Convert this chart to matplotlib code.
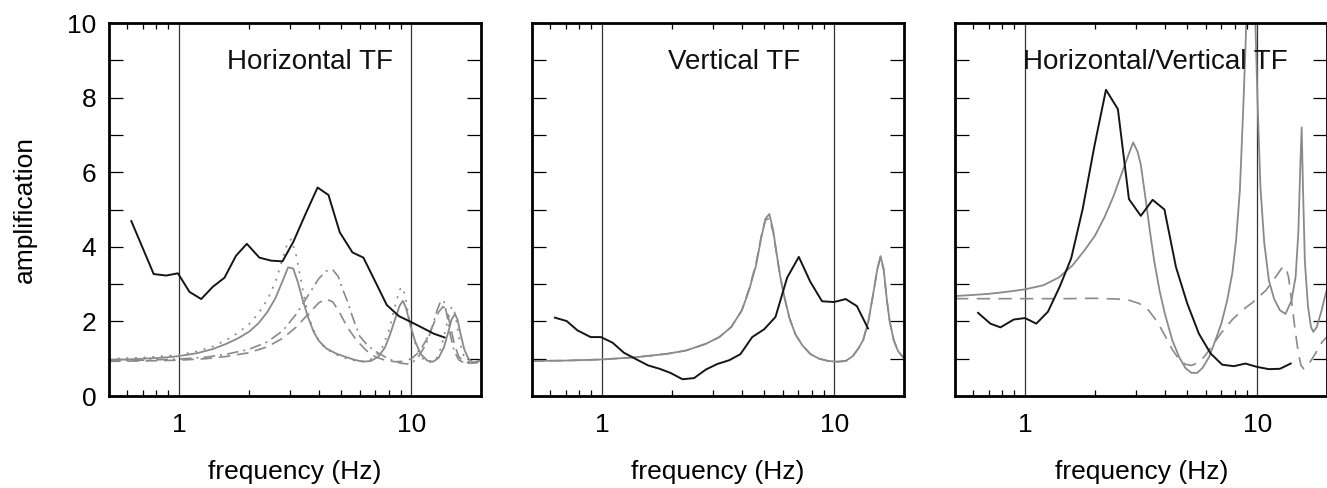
import matplotlib
matplotlib.use('Agg')
import matplotlib.pyplot as plt
from matplotlib.ticker import FixedLocator, NullFormatter, FixedFormatter

plt.rcParams['font.family'] = ['Liberation Sans', 'DejaVu Sans']

# ---- panel 1: horizontal TF ----
h_obs_f = [0.624, 0.779, 0.882, 0.99, 1.111, 1.247, 1.40, 1.57, 1.76, 1.96, 2.22, 2.49, 2.79,
           3.11, 3.50, 3.95, 4.40, 4.92, 5.58, 6.22, 6.98, 7.84, 8.85, 9.93, 11.15, 12.5, 13.9]
h_obs_a = [4.69, 3.27, 3.23, 3.29, 2.79, 2.60, 2.93, 3.17, 3.76, 4.08, 3.71, 3.63, 3.61,
           4.14, 4.87, 5.59, 5.39, 4.39, 3.85, 3.71, 3.08, 2.44, 2.14, 1.99, 1.83, 1.67, 1.57]

h_m1_f = [0.5, 0.6, 0.7, 0.8, 0.9, 1.0, 1.2, 1.4, 1.6, 1.8, 2.0, 2.2, 2.4, 2.6, 2.8, 2.95, 3.1,
          3.25, 3.4, 3.6, 3.8, 4.0, 4.3, 4.7, 5.2, 5.7, 6.2, 6.7, 7.2, 7.7, 8.1, 8.5, 8.9, 9.2,
          9.5, 9.9, 10.4, 11.0, 11.7, 12.4, 13.1, 13.8, 14.4, 14.9, 15.4, 15.8, 16.3, 16.9,
          17.6, 18.4, 19.2, 20.0]
h_m1_a = [0.97, 0.98, 1.00, 1.02, 1.04, 1.07, 1.15, 1.26, 1.40, 1.55, 1.72, 1.95, 2.25, 2.62,
          3.10, 3.45, 3.42, 3.05, 2.60, 2.10, 1.72, 1.48, 1.28, 1.15, 1.05, 0.97, 0.92, 0.94,
          1.05, 1.30, 1.65, 2.05, 2.42, 2.55, 2.35, 1.90, 1.45, 1.12, 0.95, 0.92, 1.02, 1.30,
          1.70, 2.05, 2.20, 2.05, 1.65, 1.25, 1.00, 0.90, 0.92, 0.97]

h_m2_f = [0.5, 0.7, 0.9, 1.0, 1.2, 1.4, 1.6, 1.8, 2.0, 2.2, 2.4, 2.6, 2.8, 2.95, 3.05, 3.2,
          3.35, 3.5, 3.7, 3.9, 4.2, 4.6, 5.0, 5.5, 6.0, 6.5, 7.0, 7.5, 8.0, 8.5, 8.9, 9.15,
          9.4, 9.7, 10.1, 10.6, 11.2, 11.8, 12.5, 13.1, 13.7, 14.3, 14.8, 15.1, 15.5, 16.0,
          16.6, 17.3, 18.2, 19.2, 20.0]
h_m2_a = [1.00, 1.03, 1.08, 1.10, 1.20, 1.33, 1.50, 1.70, 1.92, 2.22, 2.58, 3.05, 3.70, 4.15,
          4.20, 3.75, 3.10, 2.50, 1.95, 1.60, 1.32, 1.15, 1.05, 0.97, 0.93, 0.95, 1.05, 1.30,
          1.75, 2.40, 2.85, 2.92, 2.70, 2.20, 1.65, 1.25, 1.00, 0.90, 0.92, 1.10, 1.50, 2.00,
          2.35, 2.40, 2.15, 1.60, 1.15, 0.95, 0.88, 0.90, 0.95]

h_m3_f = [0.5, 0.7, 1.0, 1.3, 1.6, 2.0, 2.4, 2.8, 3.2, 3.6, 4.0, 4.3, 4.6, 4.85, 5.0, 5.3,
          5.6, 6.0, 6.5, 7.0, 7.6, 8.3, 9.0, 9.6, 10.2, 10.8, 11.6, 12.3, 12.9, 13.4, 13.8,
          14.2, 14.7, 15.3, 16.0, 17.0, 18.0, 19.0, 20.0]
h_m3_a = [0.95, 0.96, 0.99, 1.04, 1.12, 1.25, 1.45, 1.75, 2.20, 2.70, 3.15, 3.35, 3.38, 3.20,
          2.95, 2.55, 2.10, 1.60, 1.35, 1.20, 1.07, 0.95, 0.88, 0.86, 0.92, 1.08, 1.40, 1.85,
          2.30, 2.55, 2.55, 2.20, 1.65, 1.20, 0.97, 0.88, 0.88, 0.92, 0.95]

h_m4_f = [0.5, 0.7, 1.0, 1.3, 1.6, 2.0, 2.4, 2.8, 3.2, 3.6, 4.0, 4.3, 4.6, 4.9, 5.3, 5.8,
          6.4, 7.0, 7.7, 8.5, 9.3, 10.0, 10.8, 11.6, 12.4, 13.1, 13.7, 14.2, 14.7, 15.3,
          16.0, 17.0, 18.5, 20.0]
h_m4_a = [0.93, 0.94, 0.96, 1.00, 1.06, 1.16, 1.32, 1.55, 1.85, 2.20, 2.50, 2.60, 2.52, 2.25,
          1.85, 1.50, 1.22, 1.05, 0.96, 0.92, 0.93, 1.00, 1.18, 1.50, 1.90, 2.25, 2.40, 2.30,
          1.90, 1.40, 1.05, 0.90, 0.88, 0.92]

# ---- panel 2: vertical TF ----
v_obs_f = [0.628, 0.705, 0.784, 0.894, 0.99, 1.111, 1.243, 1.41, 1.58, 1.77, 1.97, 2.22, 2.49,
           2.80, 3.14, 3.53, 3.94, 4.43, 4.99, 5.58, 6.26, 7.03, 7.88, 8.85, 9.97, 11.19,
           12.5, 13.96]
v_obs_a = [2.10, 2.01, 1.76, 1.58, 1.58, 1.43, 1.16, 0.98, 0.82, 0.73, 0.62, 0.45, 0.48, 0.71,
           0.86, 0.96, 1.12, 1.58, 1.79, 2.12, 3.17, 3.73, 3.06, 2.54, 2.52, 2.60, 2.41, 1.81]

v_m1_f = [0.5, 0.7, 1.0, 1.4, 1.9, 2.3, 2.8, 3.2, 3.6, 4.0, 4.3, 4.6, 4.85, 5.05, 5.25, 5.45,
          5.65, 5.85, 6.1, 6.4, 6.8, 7.3, 7.9, 8.6, 9.4, 10.3, 11.2, 12.0, 12.7, 13.3, 14.0,
          14.7, 15.3, 15.8, 16.3, 16.8, 17.3, 18.0, 18.8, 20.0]
v_m1_a = [0.94, 0.95, 0.98, 1.04, 1.13, 1.22, 1.40, 1.58, 1.85, 2.30, 2.85, 3.50, 4.25, 4.75,
          4.88, 4.45, 3.80, 3.20, 2.65, 2.10, 1.65, 1.35, 1.12, 1.00, 0.94, 0.92, 0.94, 1.07,
          1.28, 1.50, 2.00, 2.75, 3.40, 3.75, 3.40, 2.60, 2.00, 1.50, 1.20, 1.00]
v_m2_a = [0.94, 0.95, 0.98, 1.04, 1.13, 1.22, 1.40, 1.58, 1.85, 2.30, 2.88, 3.55, 4.30, 4.72,
          4.76, 4.40, 3.78, 3.18, 2.63, 2.10, 1.65, 1.35, 1.12, 1.00, 0.94, 0.92, 0.94, 1.07,
          1.28, 1.50, 2.00, 2.75, 3.40, 3.72, 3.38, 2.60, 2.00, 1.50, 1.20, 1.00]

# ---- panel 3: H/V ----
hv_obs_f = [0.628, 0.71, 0.784, 0.894, 1.0, 1.118, 1.255, 1.41, 1.58, 1.77, 1.99, 2.23, 2.51,
            2.80, 3.15, 3.54, 3.98, 4.46, 4.99, 5.60, 6.29, 7.05, 7.91, 8.88, 9.97, 11.2,
            12.5, 13.9]
hv_obs_a = [2.23, 1.94, 1.84, 2.05, 2.09, 1.94, 2.26, 2.93, 3.69, 5.01, 6.71, 8.21, 7.69, 5.28,
            4.83, 5.26, 5.00, 3.46, 2.48, 1.67, 1.14, 0.84, 0.80, 0.87, 0.78, 0.72, 0.73, 0.87]

hv_m1_f = [0.5, 0.6, 0.7, 0.8, 0.9, 1.0, 1.2, 1.4, 1.6, 1.8, 2.0, 2.2, 2.4, 2.6, 2.8, 2.92,
           3.05, 3.15, 3.3, 3.45, 3.6, 3.8, 4.0, 4.3, 4.6, 4.9, 5.2, 5.5, 5.8, 6.2, 6.6, 7.0,
           7.4, 7.8, 8.1, 8.4, 8.7, 8.9, 9.1, 9.35, 9.6, 9.8, 10.0, 10.3, 10.7, 11.2, 11.8,
           12.5, 13.2, 14.0, 14.6, 15.0, 15.3, 15.5, 15.7, 16.0, 16.5, 17.0, 17.4, 18.0, 18.8,
           19.5, 20.0]
hv_m1_a = [2.68, 2.71, 2.74, 2.78, 2.82, 2.86, 2.97, 3.18, 3.50, 3.90, 4.30, 4.80, 5.35, 5.95,
           6.50, 6.80, 6.55, 6.20, 5.30, 4.40, 3.60, 2.80, 2.20, 1.50, 1.05, 0.75, 0.62, 0.62,
           0.75, 1.05, 1.50, 1.95, 2.55, 3.30, 4.20, 5.50, 7.80, 9.50, 11.5, 13.0, 11.5, 10.0,
           8.00, 5.60, 4.10, 3.10, 2.60, 2.30, 2.20, 2.55, 3.20, 4.40, 6.20, 7.20, 5.60, 3.60,
           2.40, 1.85, 1.72, 1.85, 2.25, 2.65, 2.90]

hv_m2_f = [0.5, 0.8, 1.0, 1.5, 2.0, 2.5, 2.8, 3.1, 3.4, 3.7, 4.0, 4.3, 4.6, 4.9, 5.2, 5.5, 5.9,
           6.4, 7.0, 7.8, 8.6, 9.5, 10.9, 12.0, 12.7, 13.2, 13.6, 14.0, 14.5, 15.0, 15.4,
           15.8, 16.4, 17.2, 18.0, 19.0, 20.0]
hv_m2_a = [2.61, 2.61, 2.61, 2.61, 2.62, 2.60, 2.57, 2.48, 2.30, 2.00, 1.62, 1.25, 0.98, 0.85,
           0.82, 0.88, 1.05, 1.35, 1.70, 2.05, 2.30, 2.50, 2.84, 3.20, 3.42, 3.47, 3.20, 2.60,
           1.80, 1.15, 0.82, 0.73, 0.80, 1.00, 1.20, 1.45, 1.60]

titles = ['Horizontal TF', 'Vertical TF', 'Horizontal/Vertical TF']
title_x = [0.317, 0.365, 0.183]

gray = '#8a8a8a'
blk = '#151515'
fs = 19

fig = plt.figure(figsize=(13.27, 4.88), dpi=100)
lefts = [0.0821, 0.4009, 0.7197]
axes = [fig.add_axes([l, 0.1885, 0.2806, 0.7643]) for l in lefts]

ax = axes[0]
ax.plot(h_m4_f, h_m4_a, color=gray, lw=1.2, dashes=(7, 4))
ax.plot(h_m3_f, h_m3_a, color=gray, lw=1.2, dashes=(7, 3, 1.2, 3))
ax.plot(h_m2_f, h_m2_a, color=gray, lw=1.2, dashes=(1.2, 4))
ax.plot(h_m1_f, h_m1_a, color=gray, lw=1.3)
ax.plot(h_obs_f, h_obs_a, color=blk, lw=1.4)

ax = axes[1]
ax.plot(v_m1_f, v_m2_a, color=gray, lw=1.2, dashes=(7, 4))
ax.plot(v_m1_f, v_m1_a, color=gray, lw=1.3)
ax.plot(v_obs_f, v_obs_a, color=blk, lw=1.4)

ax = axes[2]
ax.plot(hv_m2_f, hv_m2_a, color=gray, lw=1.2, dashes=(8, 5))
ax.plot(hv_m1_f, hv_m1_a, color=gray, lw=1.3)
ax.plot(hv_obs_f, hv_obs_a, color=blk, lw=1.4)

for i, ax in enumerate(axes):
    ax.set_xscale('log')
    ax.set_xlim(0.5, 20)
    ax.set_ylim(0, 10)
    ax.axvline(1, color='#333333', lw=0.9, zorder=0.5)
    ax.axvline(10, color='#333333', lw=0.9, zorder=0.5)
    ax.xaxis.set_major_locator(FixedLocator([1, 10]))
    ax.xaxis.set_major_formatter(FixedFormatter(['1', '10']))
    ax.xaxis.set_minor_locator(FixedLocator([0.6, 0.7, 0.8, 0.9, 2, 3, 4, 5, 6, 7, 8, 9]))
    ax.xaxis.set_minor_formatter(NullFormatter())
    ax.yaxis.set_major_locator(FixedLocator([0, 2, 4, 6, 8, 10]))
    ax.yaxis.set_minor_locator(FixedLocator([1, 3, 5, 7, 9]))
    ax.tick_params(axis='x', which='major', length=0, pad=12, labelsize=fs)
    ax.tick_params(axis='x', which='minor', direction='in', length=4, width=0.9,
                   top=True, bottom=True)
    ax.tick_params(axis='y', which='both', direction='in', length=10, width=0.9,
                   left=True, right=True, pad=9, labelsize=fs)
    for s in ax.spines.values():
        s.set_linewidth(2.0)
    if i > 0:
        ax.set_yticklabels([])
    ax.set_xlabel('frequency (Hz)', fontsize=fs)
    ax.xaxis.set_label_coords(0.5, -0.172)
    ax.text(title_x[i], 0.895, titles[i], transform=ax.transAxes, fontsize=20,
            ha='left', va='center', color='#111111')

axes[0].set_ylabel('amplification', fontsize=fs)
axes[0].yaxis.set_label_coords(-0.194, 0.5)

fig.savefig('out.png', dpi=100, facecolor='white')
